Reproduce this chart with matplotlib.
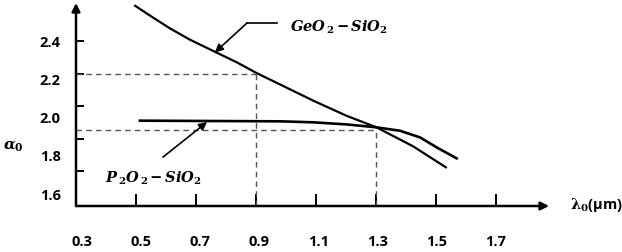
import matplotlib.pyplot as plt

plt.rcParams['mathtext.fontset'] = 'dejavuserif'

# curve readings (lambda in um, alpha_0)
geo_x = [0.497, 0.547, 0.613, 0.68, 0.763, 0.836, 0.902, 0.98, 1.091, 1.202, 1.302, 1.424, 1.533]
geo_y = [2.617, 2.556, 2.478, 2.408, 2.334, 2.269, 2.203, 2.133, 2.033, 1.94, 1.869, 1.752, 1.623]

p2o_x = [0.513, 0.98, 1.09, 1.202, 1.302, 1.38, 1.447, 1.502, 1.569]
p2o_y = [1.910, 1.906, 1.900, 1.887, 1.869, 1.848, 1.807, 1.746, 1.678]

# reference lines
ref_x = [0.9, 1.3]
ref_y = [2.2, 1.855]

x_ticks = [0.5, 0.7, 0.9, 1.1, 1.3, 1.5, 1.7]
x_labels = [0.3, 0.5, 0.7, 0.9, 1.1, 1.3, 1.5, 1.7]
y_ticks = [1.6, 1.8, 2.0, 2.2, 2.4]

fig = plt.figure(figsize=(6.22, 2.53), dpi=100)
ax = fig.add_axes([0.1222, 0.1818, 0.7605, 0.8024])
ax.set_xlim(0.3, 1.877)
ax.set_ylim(1.385, 2.634)

ax.plot(geo_x, geo_y, color='black', lw=1.6, solid_joinstyle='round')
ax.plot(p2o_x, p2o_y, color='black', lw=1.9, solid_joinstyle='round')

for rx, ry in zip(ref_x, ref_y):
    ax.plot([0.3, rx], [ry, ry], ls=(0, (4, 3)), color='#555555', lw=1.0)
    ax.plot([rx, rx], [1.385, ry], ls=(0, (4, 3)), color='#555555', lw=1.0)

# axes with arrow heads
for s in ax.spines.values():
    s.set_visible(False)
arrow = dict(arrowstyle='-|>', lw=1.8, color='black', mutation_scale=12,
             shrinkA=0, shrinkB=0)
ax.annotate('', xy=(1, 0), xytext=(0, 0), xycoords='axes fraction', arrowprops=arrow)
ax.annotate('', xy=(0, 1), xytext=(0, 0), xycoords='axes fraction', arrowprops=arrow)

ax.set_xticks(x_ticks)
ax.set_yticks(y_ticks)
ax.tick_params(axis='x', direction='in', length=9, width=1.4, labelbottom=False)
ax.tick_params(axis='y', direction='in', length=6, width=1.4, labelleft=False)

# tick labels sit slightly off the tick marks in the original
ax_yl = ax.twinx()
ax_yl.set_ylim(1.5317, 2.598)
ax_yl.yaxis.tick_left()
ax_yl.set_yticks(y_ticks)
ax_yl.set_yticklabels([f'{v:.1f}' for v in y_ticks], fontweight='bold',
                      fontsize=10.5, family='Open Sans')
ax_yl.tick_params(axis='y', length=0, pad=11)

ax_xl = ax.twiny()
ax_xl.set_xlim(0.2797, 1.879)
ax_xl.xaxis.tick_bottom()
ax_xl.set_xticks(x_labels)
ax_xl.set_xticklabels([f'{v:.1f}' for v in x_labels], fontweight='bold',
                      fontsize=10.5, family='Open Sans')
ax_xl.tick_params(axis='x', length=0, pad=20)
for a in (ax_yl, ax_xl):
    for s in a.spines.values():
        s.set_visible(False)

# curve annotations
ax.plot([0.97, 0.87], [2.511, 2.511], color='black', lw=1.2)
ax.annotate('', xy=(0.763, 2.33), xytext=(0.87, 2.511),
            arrowprops=dict(arrowstyle='-|>', lw=1.2, color='black',
                            mutation_scale=12, shrinkA=0, shrinkB=0))
ax.text(1.013, 2.492, r'$\boldsymbol{GeO}_{\,\mathbf{2}}\,\mathbf{-}\,\boldsymbol{SiO}_{\mathbf{2}}$',
        fontsize=10.5, va='center', ha='left')

ax.annotate('', xy=(0.737, 1.902), xytext=(0.59, 1.686),
            arrowprops=dict(arrowstyle='-|>', lw=1.2, color='black',
                            mutation_scale=12, shrinkA=0, shrinkB=0))
ax.text(0.397, 1.563, r'$\boldsymbol{P}_{\,\mathbf{2}}\boldsymbol{O}_{\,\mathbf{2}}\,\mathbf{-}\,\boldsymbol{SiO}_{\mathbf{2}}$',
        fontsize=10.5, va='center', ha='left')

fig.text(0.916, 0.19, r'$\boldsymbol{\lambda}_{\mathbf{0}}$(μm)', fontsize=10.5,
         fontweight='bold', family='Open Sans', va='center', ha='left')
fig.text(0.005, 0.419, r'$\boldsymbol{\alpha}_{\mathbf{0}}$', fontsize=11,
         va='center', ha='left')

fig.savefig('out.png', dpi=100)
